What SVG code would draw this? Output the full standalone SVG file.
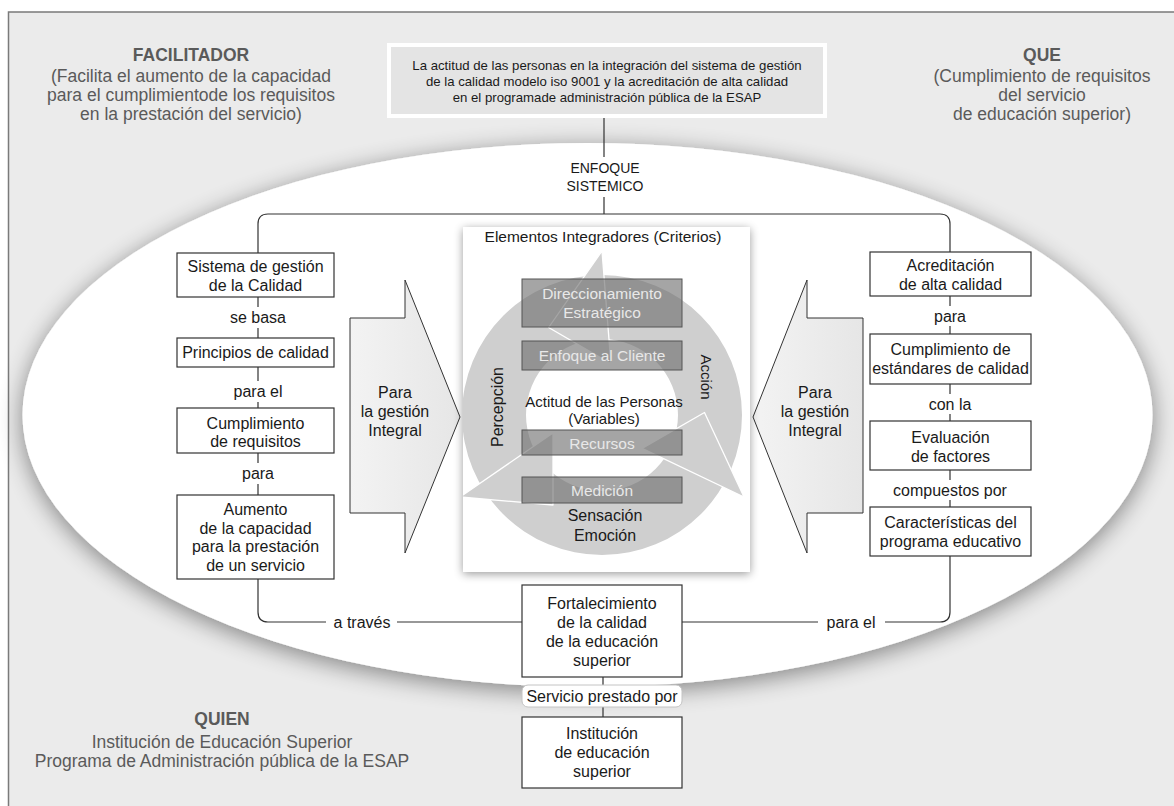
<svg xmlns="http://www.w3.org/2000/svg" width="1174" height="806" viewBox="0 0 1174 806">
<defs>
<style>
.t{font-family:"Liberation Sans",Arial,sans-serif;font-size:16px;fill:#1a1a1a;text-anchor:middle}
.g{font-family:"Liberation Sans",Arial,sans-serif;font-size:17.5px;fill:#5a5a5a;text-anchor:middle}
.gb{font-weight:bold}
.s{font-size:13.2px}
.c{font-size:14px}
.e{font-size:15.5px}
.m{font-size:15px}
.box{fill:#fff;stroke:#333;stroke-width:1.2}
.crit{fill:#6e6e6e;fill-opacity:0.62;stroke:#555;stroke-width:1}
.ct{font-family:"Liberation Sans",Arial,sans-serif;font-size:15.5px;fill:#e8e8e8;text-anchor:middle}
.conn{fill:none;stroke:#333;stroke-width:1.2}
.ring{fill:#cfcfcf}
.head{fill:#cfcfcf;stroke:#fff;stroke-width:1.3;stroke-linejoin:round}
.arr{fill:url(#ag);stroke:#333;stroke-width:1}
</style>
<filter id="sh" x="-10%" y="-15%" width="120%" height="135%">
<feGaussianBlur in="SourceAlpha" stdDeviation="12"/>
<feOffset dx="0" dy="5"/>
<feComponentTransfer><feFuncA type="linear" slope="0.45"/></feComponentTransfer>
<feMerge><feMergeNode/><feMergeNode in="SourceGraphic"/></feMerge>
</filter>
<filter id="sh2" x="-10%" y="-10%" width="120%" height="120%">
<feGaussianBlur in="SourceAlpha" stdDeviation="5"/>
<feOffset dx="0" dy="2"/>
<feComponentTransfer><feFuncA type="linear" slope="0.4"/></feComponentTransfer>
<feMerge><feMergeNode/><feMergeNode in="SourceGraphic"/></feMerge>
</filter>
<linearGradient id="ag" x1="0" y1="0" x2="1" y2="0">
<stop offset="0" stop-color="#f3f3f3"/>
<stop offset="1" stop-color="#e6e6e6"/>
</linearGradient>
<clipPath id="pc"><rect x="463" y="227" width="287" height="345"/></clipPath>
</defs>

<rect x="8.5" y="12" width="1180" height="810" fill="#ebebeb" stroke="#7a7a7a" stroke-width="1.5"/>
<ellipse cx="587.5" cy="415" rx="565" ry="272" fill="#fff" filter="url(#sh)"/>

<g id="facilitador">
<text class="g gb" x="191" y="61">FACILITADOR</text>
<text class="g" x="191" y="82">(Facilita el aumento de la capacidad</text>
<text class="g" x="191" y="101">para el cumplimientode los requisitos</text>
<text class="g" x="191" y="120">en la prestación del servicio)</text>
</g>
<g id="que">
<text class="g gb" x="1042" y="61">QUE</text>
<text class="g" x="1042" y="82">(Cumplimiento de requisitos</text>
<text class="g" x="1042" y="101">del servicio</text>
<text class="g" x="1042" y="120">de educación superior)</text>
</g>
<g id="quien">
<text class="g gb" x="222" y="725">QUIEN</text>
<text class="g" x="222" y="748">Institución de Educación Superior</text>
<text class="g" x="222" y="767">Programa de Administración pública de la ESAP</text>
</g>

<g id="titulo">
<rect x="387" y="43" width="440" height="75" fill="#fff"/>
<rect x="391" y="47" width="432" height="67" fill="#e4e4e4"/>
<text class="t s" x="607" y="70">La actitud de las personas en la integración del sistema de gestión</text>
<text class="t s" x="607" y="86">de la calidad modelo iso 9001 y la acreditación de alta calidad</text>
<text class="t s" x="607" y="102">en el programade administración pública de la ESAP</text>
</g>

<g id="enfoque">
<text class="t c" x="605" y="173">ENFOQUE</text>
<text class="t c" x="605" y="191">SISTEMICO</text>
</g>

<g id="connectors">
<path class="conn" d="M604 118V157M604 197V214M258 253V224Q258 214 268 214H940Q950 214 950 224V252"/>
<path class="conn" d="M258 297V307M258 328V338M258 367V381M258 402V408M258 453V463M258 484V495M258 579V612Q258 622 268 622H326M397 622H522"/>
<path class="conn" d="M950 296V306M950 326V334M950 384V394M950 414V421M950 470V480M950 500V507M950 556V612Q950 622 940 622H885M818 622H682"/>
<path class="conn" d="M603 677V685M603 707V717"/>
</g>

<g id="lbl-conn">
<text class="t" x="258" y="323">se basa</text>
<text class="t" x="258" y="397">para el</text>
<text class="t" x="258" y="479">para</text>
<text class="t" x="362" y="628">a través</text>
<text class="t" x="950" y="322">para</text>
<text class="t" x="950" y="410">con la</text>
<text class="t" x="950" y="496">compuestos por</text>
<text class="t" x="851" y="628">para el</text>
</g>

<g id="sgc">
<rect class="box" x="177" y="253" width="157" height="44"/>
<text class="t" x="255.5" y="272">Sistema de gestión</text>
<text class="t" x="255.5" y="291">de la Calidad</text>
</g>
<g id="principios">
<rect class="box" x="177" y="338" width="157" height="29"/>
<text class="t" x="255.5" y="358">Principios de calidad</text>
</g>
<g id="cumplimiento">
<rect class="box" x="177" y="408" width="157" height="45"/>
<text class="t" x="255.5" y="429">Cumplimiento</text>
<text class="t" x="255.5" y="447">de requisitos</text>
</g>
<g id="aumento">
<rect class="box" x="177" y="495" width="157" height="84"/>
<text class="t" x="255.5" y="515">Aumento</text>
<text class="t" x="255.5" y="534">de la capacidad</text>
<text class="t" x="255.5" y="552">para la prestación</text>
<text class="t" x="255.5" y="571">de un servicio</text>
</g>

<g id="acreditacion">
<rect class="box" x="870" y="252" width="161" height="44"/>
<text class="t" x="950.5" y="271">Acreditación</text>
<text class="t" x="950.5" y="290">de alta calidad</text>
</g>
<g id="estandares">
<rect class="box" x="870" y="334" width="161" height="50"/>
<text class="t" x="950.5" y="355">Cumplimiento de</text>
<text class="t" x="950.5" y="374">estándares de calidad</text>
</g>
<g id="evaluacion">
<rect class="box" x="870" y="421" width="161" height="49"/>
<text class="t" x="950.5" y="443">Evaluación</text>
<text class="t" x="950.5" y="462">de factores</text>
</g>
<g id="caracteristicas">
<rect class="box" x="870" y="507" width="161" height="49"/>
<text class="t" x="950.5" y="528">Características del</text>
<text class="t" x="950.5" y="547">programa educativo</text>
</g>

<g id="flecha-izq">
<path class="arr" d="M350 318H405V280L460 417L405 553V513H350Z"/>
<text class="t" x="395" y="398">Para</text>
<text class="t" x="395" y="417">la gestión</text>
<text class="t" x="395" y="436">Integral</text>
</g>
<g id="flecha-der">
<path class="arr" d="M863 318H807V280L753 417L807 553V513H863Z"/>
<text class="t" x="815" y="398">Para</text>
<text class="t" x="815" y="417">la gestión</text>
<text class="t" x="815" y="436">Integral</text>
</g>

<g id="elementos">
<rect x="463" y="227" width="287" height="345" fill="#fff" filter="url(#sh2)"/>
<g clip-path="url(#pc)">
<path class="ring" fill-rule="evenodd" d="M742 415A140 140 0 1 1 462 415A140 140 0 1 1 742 415ZM678 415A76 76 0 1 0 526 415A76 76 0 1 0 678 415Z"/>
<path class="head" d="M704.5 412.5L744 497L642.1 448.4Z"/>
<path class="head" d="M553 505L460 497L553 433Z"/>
<path class="head" d="M548.6 327.5L602 251L610.9 363.6Z"/>
</g>
<text class="t e" x="603" y="242">Elementos Integradores (Criterios)</text>
<rect class="crit" x="522" y="279" width="160" height="48"/>
<text class="ct" x="602" y="299">Direccionamiento</text>
<text class="ct" x="602" y="318">Estratégico</text>
<rect class="crit" x="522" y="341" width="160" height="29"/>
<text class="ct" x="602" y="361">Enfoque al Cliente</text>
<text class="t m" x="604" y="407">Actitud de las Personas</text>
<text class="t m" x="604" y="424">(Variables)</text>
<rect class="crit" x="522" y="430" width="160" height="25"/>
<text class="ct" x="602" y="449">Recursos</text>
<rect class="crit" x="522" y="477" width="160" height="26"/>
<text class="ct" x="602" y="496">Medición</text>
<text class="t" x="605" y="521">Sensación</text>
<text class="t" x="605" y="541">Emoción</text>
<text class="t" x="503" y="407" transform="rotate(-90 503 407)">Percepción</text>
<text class="t m" x="701" y="377" transform="rotate(90 701 377)">Acción</text>
</g>

<g id="fortalecimiento">
<rect class="box" x="522" y="585" width="160" height="92"/>
<text class="t" x="602" y="609">Fortalecimiento</text>
<text class="t" x="602" y="628">de la calidad</text>
<text class="t" x="602" y="647">de la educación</text>
<text class="t" x="602" y="666">superior</text>
</g>
<g id="servicio">
<rect x="522" y="685" width="160" height="22" rx="6" fill="#fff" stroke="#c4c4c4" stroke-width="1"/>
<text class="t" x="602" y="702">Servicio prestado por</text>
</g>
<g id="institucion">
<rect class="box" x="522" y="717" width="160" height="71"/>
<text class="t" x="602" y="739">Institución</text>
<text class="t" x="602" y="758">de educación</text>
<text class="t" x="602" y="777">superior</text>
</g>
</svg>
